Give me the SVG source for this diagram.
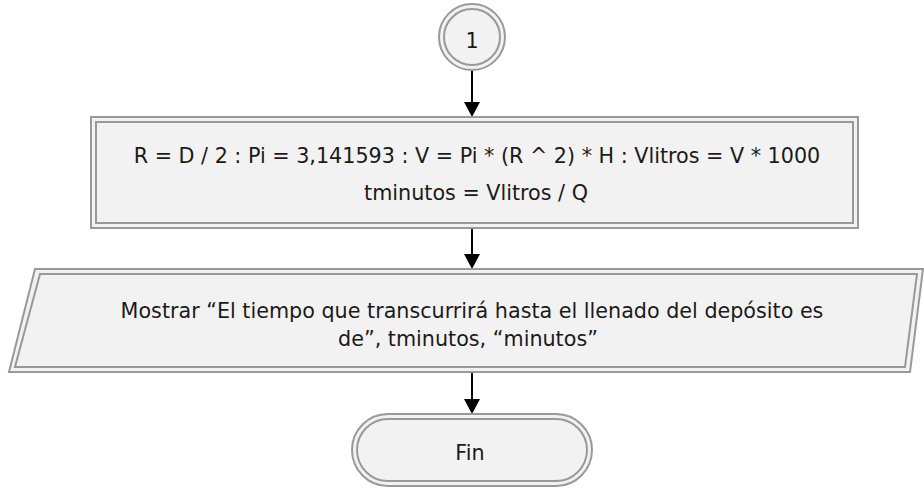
<svg xmlns="http://www.w3.org/2000/svg" width="924" height="488" viewBox="0 0 924 488">
<defs>
<style>
.out{fill:#f2f2f2;stroke:#999;stroke-width:2}
.in{fill:none;stroke:#999;stroke-width:2}
.t{font-family:"DejaVu Sans",Verdana,sans-serif;font-size:20.7px;fill:#1a1a1a;text-anchor:middle}
.c{stroke:#000;stroke-width:2;fill:none}
.h{fill:#000}
</style>
</defs>
<rect width="924" height="488" fill="#fff"/>
<g id="connectors">
<line class="c" x1="472" y1="71" x2="472" y2="103"/>
<path class="h" d="M464,102 L480,102 L472,117 Z"/>
<line class="c" x1="472" y1="228" x2="472" y2="255"/>
<path class="h" d="M464,254 L480,254 L472,269 Z"/>
<line class="c" x1="472" y1="372" x2="472" y2="400"/>
<path class="h" d="M464,399 L480,399 L472,414 Z"/>
</g>
<g id="n1">
<circle class="out" cx="472" cy="37" r="33"/>
<circle class="in" cx="472" cy="37" r="28"/>
<text class="t" x="472" y="48">1</text>
</g>
<g id="n2">
<rect class="out" x="91" y="117" width="767" height="111"/>
<rect class="in" x="96" y="122" width="757" height="101"/>
<text class="t" x="477" y="163">R = D / 2 : Pi = 3,141593 : V = Pi * (R ^ 2) * H : Vlitros = V * 1000</text>
<text class="t" x="476" y="200">tminutos = Vlitros / Q</text>
</g>
<g id="n3">
<polygon class="out" points="35,269 923,269 910,372 9,372"/>
<polygon class="in" points="40,274 917,274 905,367 15,367"/>
<text class="t" x="472" y="318">Mostrar “El tiempo que transcurrirá hasta el llenado del depósito es</text>
<text class="t" x="468" y="346">de”, tminutos, “minutos”</text>
</g>
<g id="n4">
<rect class="out" x="352" y="414" width="240" height="72" rx="36" ry="36"/>
<rect class="in" x="357" y="419" width="230" height="62" rx="31" ry="31"/>
<text class="t" x="470" y="460">Fin</text>
</g>
</svg>
